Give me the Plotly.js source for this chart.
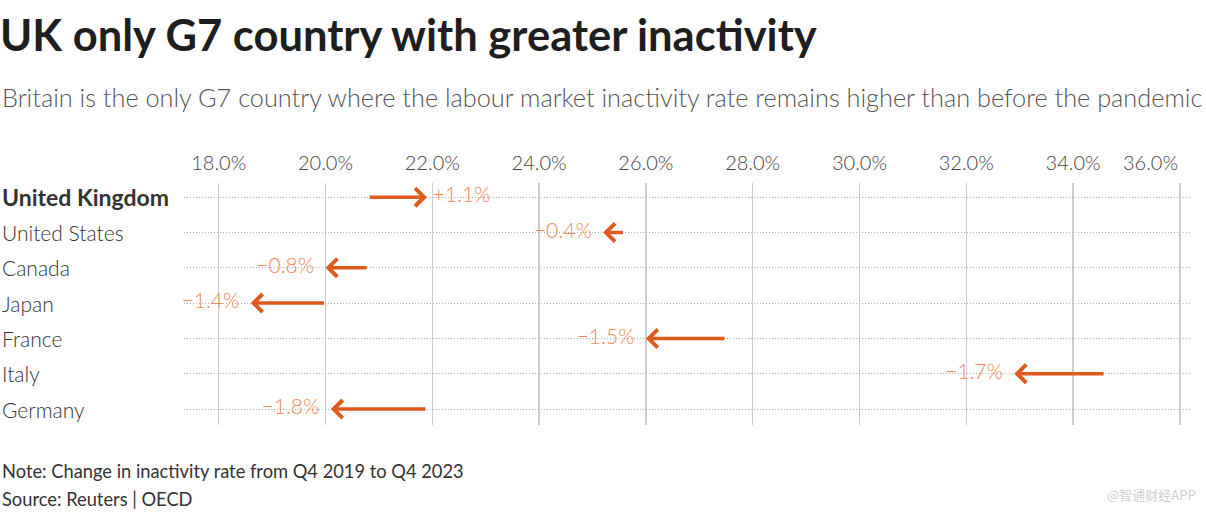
<!DOCTYPE html>
<html>
<head>
<meta charset="utf-8">
<script src="https://cdn.plot.ly/plotly-3.0.1.min.js"></script>
<style>html,body{margin:0;padding:0;background:#fff;}#chart{width:1206px;height:513px;}</style>
</head>
<body>
<div id="chart"></div>
<script>
// ---- data ----
const countries = ["United Kingdom", "United States", "Canada", "Japan", "France", "Italy", "Germany"];
const rateQ4_2019 = [20.8, 25.6, 20.8, 20.0, 27.5, 34.6, 21.9];
const rateQ4_2023 = [21.9, 25.2, 20.0, 18.6, 26.0, 32.9, 20.1];
const xTickVals = [18, 20, 22, 24, 26, 28, 30, 32, 34, 36];
const xTickText = ["18.0%", "20.0%", "22.0%", "24.0%", "26.0%", "28.0%", "30.0%", "32.0%", "34.0%", "36.0%"];

const FONT = "Source Sans Pro, Lato, 'Noto Sans', sans-serif";
const ARROW = "#df5a1c";
const LABEL = "#ec8a58";

const W = 1206, H = 513;
const M = {l: 184, r: 16, t: 183, b: 88};
const PW = W - M.l - M.r, PH = H - M.t - M.b;
const py = p => (H - M.b - p) / PH;   // pixel y -> paper y
const px = p => (p - M.l) / PW;       // pixel x -> paper x

const idx = countries.map((c, i) => i);
const changes = rateQ4_2023.map((v, i) => Math.round((v - rateQ4_2019[i]) * 10) / 10);
const changeText = changes.map(d => d > 0
  ? "\u00a0+" + Math.abs(d).toFixed(1) + "%"
  : "\u2212" + Math.abs(d).toFixed(1) + "%\u00a0\u00a0");

const lastTick = xTickVals.length - 1;
const shownTickText = xTickText.map((t, i) => i === lastTick ? "" : t);

const annotations = [];
// last tick label, right-aligned to its gridline
annotations.push({
  x: xTickVals[lastTick], y: py(162), xref: "x", yref: "paper", xanchor: "right", yanchor: "middle",
  text: xTickText[lastTick], showarrow: false,
  font: {family: FONT, size: 20, weight: 300, color: "#444"}
});
// arrows
countries.forEach((c, i) => {
  annotations.push({
    x: rateQ4_2023[i], y: i, xref: "x", yref: "y",
    ax: rateQ4_2019[i], ay: i, axref: "x", ayref: "y",
    text: "", showarrow: true, arrowhead: 4, arrowsize: 1.0,
    arrowwidth: 3.5, arrowcolor: ARROW, standoff: 0
  });
});
// country labels
countries.forEach((c, i) => {
  annotations.push({
    x: px(0), y: i, xref: "paper", yref: "y", xanchor: "left", yanchor: "middle",
    text: i === 0 ? "<b>" + c + "</b>" : c, showarrow: false,
    font: {family: FONT, size: i === 0 ? 23 : 21, weight: i === 0 ? 700 : 300, color: "#333"}
  });
});
// subtitle, note, source, watermark
annotations.push({
  x: px(0), y: py(97), xref: "paper", yref: "paper", xanchor: "left", yanchor: "middle",
  text: "Britain is the only G7 country where the labour market inactivity rate remains higher than before the pandemic",
  showarrow: false, font: {family: FONT, size: 25.3, weight: 300, color: "#555"}
});
annotations.push({
  x: px(0), y: py(471), xref: "paper", yref: "paper", xanchor: "left", yanchor: "middle",
  text: "Note: Change in inactivity rate from Q4 2019 to Q4 2023",
  showarrow: false, font: {family: FONT, size: 18.3, color: "#333"}
});
annotations.push({
  x: px(0), y: py(499), xref: "paper", yref: "paper", xanchor: "left", yanchor: "middle",
  text: "Source: Reuters | OECD",
  showarrow: false, font: {family: FONT, size: 18.3, color: "#333"}
});
annotations.push({
  x: px(1198), y: py(494), xref: "paper", yref: "paper", xanchor: "right", yanchor: "middle",
  text: "@智通财经APP",
  showarrow: false, font: {family: "Noto Sans CJK SC, sans-serif", size: 13, color: "#d0d0d0"}
});

const labelTrace = {
  type: "scatter", mode: "text",
  x: rateQ4_2023, y: idx,
  text: changeText,
  textposition: changes.map(d => d > 0 ? "middle right" : "middle left"),
  textfont: {family: FONT, size: 21, weight: 300, color: LABEL},
  hoverinfo: "skip", showlegend: false, cliponaxis: false
};

const layout = {
  width: W, height: H,
  margin: M,
  paper_bgcolor: "#fff", plot_bgcolor: "#fff",
  showlegend: false,
  title: {
    text: "<b>UK only G7 country with greater inactivity</b>",
    x: 0, xref: "container", xanchor: "left",
    y: 1 - 36 / H, yref: "container", yanchor: "middle",
    font: {family: FONT, size: 43.5, color: "#1e1e1e"}
  },
  xaxis: {
    side: "top", range: [17.35, 36.19],
    tickvals: xTickVals, ticktext: shownTickText,
    tickfont: {family: FONT, size: 20, weight: 300, color: "#444"},
    ticklabelstandoff: 8,
    showgrid: true, gridcolor: "#cccccc", gridwidth: 1.5,
    zeroline: false, showline: false, ticks: "", fixedrange: true
  },
  yaxis: {
    range: [6.45, -0.4], tickvals: idx, showticklabels: false,
    showgrid: true, gridcolor: "#b0b0b0", gridwidth: 1, griddash: "1px,2px",
    zeroline: false, showline: false, ticks: "", fixedrange: true
  },
  annotations: annotations
};

Plotly.newPlot("chart", [labelTrace], layout, {displayModeBar: false, staticPlot: true});
</script>
</body>
</html>
